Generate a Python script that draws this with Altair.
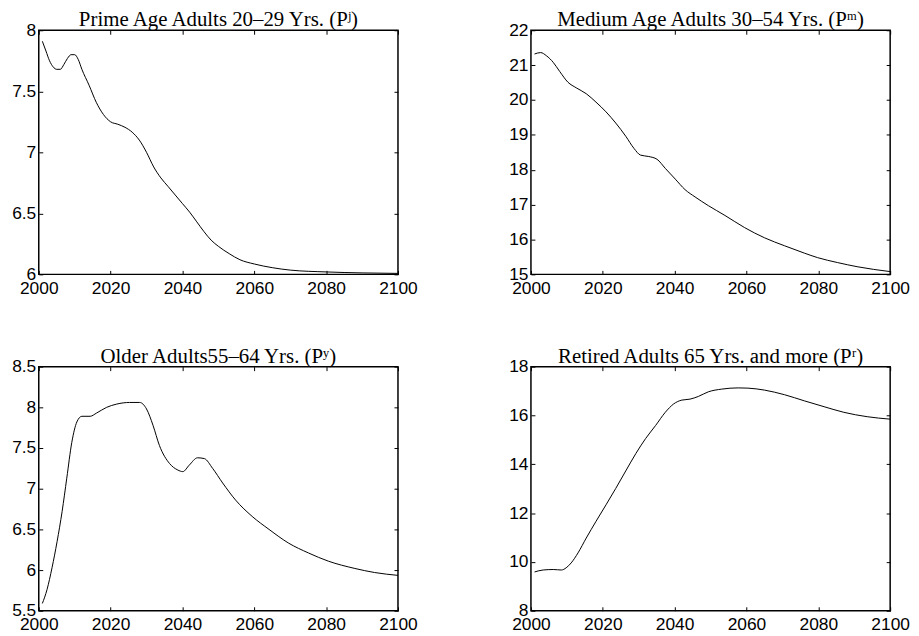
import altair as alt
import pandas as pd

# ---- data ----
years_prime = [2001, 2002, 2003, 2004, 2005, 2006, 2007, 2008, 2009, 2010, 2011, 2012, 2014, 2016, 2018,
               2020, 2022, 2024, 2026, 2028, 2030, 2032, 2034, 2036, 2038, 2040, 2042, 2044, 2046, 2048,
               2050, 2053, 2056, 2060, 2065, 2070, 2080, 2090, 2100]
vals_prime = [7.91, 7.83, 7.75, 7.70, 7.68, 7.68, 7.72, 7.77, 7.80, 7.80, 7.76, 7.68, 7.55, 7.41, 7.31,
              7.25, 7.23, 7.205, 7.165, 7.10, 7.00, 6.88, 6.79, 6.72, 6.65, 6.58, 6.51, 6.43, 6.35, 6.28,
              6.23, 6.17, 6.12, 6.085, 6.055, 6.035, 6.02, 6.012, 6.008]

years_medium = [2001, 2002.7, 2004.3, 2006.2, 2008, 2010.3, 2012.6, 2015.4, 2018.1, 2020.9, 2023.6, 2026.4,
                2028.7, 2030.5, 2032.8, 2035.1, 2037.4, 2040.2, 2042.9, 2045.7, 2049.4, 2054, 2059.5,
                2065, 2070.6, 2076.1, 2079.8, 2085.3, 2090.8, 2100]
vals_medium = [21.32, 21.36, 21.27, 21.08, 20.82, 20.51, 20.35, 20.18, 19.94, 19.66, 19.34, 18.96,
               18.61, 18.42, 18.38, 18.30, 18.04, 17.73, 17.43, 17.22, 16.97, 16.69, 16.34,
               16.05, 15.82, 15.61, 15.48, 15.34, 15.22, 15.08]

years_older = [2001, 2002.3, 2003.7, 2005.1, 2006.5, 2007.8, 2009.2, 2010.6, 2012, 2014.3, 2016.1, 2018.9,
               2021.7, 2025.3, 2028.1, 2030, 2031.8, 2033.6, 2036.4, 2038.7, 2040.1, 2041.9, 2044.2,
               2046.1, 2048.4, 2051.2, 2054.8, 2059.4, 2064.1, 2069.6, 2075.1, 2080.6, 2088, 2093.5, 2100]
vals_older = [5.59, 5.76, 6.03, 6.35, 6.72, 7.13, 7.57, 7.82, 7.89, 7.89, 7.93, 8.00,
              8.04, 8.06, 8.06, 7.98, 7.78, 7.53, 7.31, 7.23, 7.21, 7.29, 7.38,
              7.37, 7.25, 7.07, 6.86, 6.66, 6.50, 6.33, 6.21, 6.11, 6.02, 5.97, 5.935]

years_retired = [2001, 2003.4, 2006.2, 2008.5, 2009.8, 2011.2, 2013.1, 2015.4, 2018.1, 2020.9, 2023.6,
                 2026.4, 2029.2, 2031.9, 2034.7, 2037.4, 2039.7, 2042, 2044.3, 2046.6, 2049.4, 2053.1,
                 2057.7, 2060.4, 2065, 2070.6, 2076.1, 2081.6, 2087.1, 2093.6, 2100]
vals_retired = [9.59, 9.67, 9.69, 9.67, 9.76, 9.96, 10.37, 10.98, 11.66, 12.34, 13.01,
                13.73, 14.44, 15.05, 15.59, 16.13, 16.47, 16.63, 16.67, 16.78, 16.97, 17.08,
                17.13, 17.12, 17.04, 16.85, 16.60, 16.36, 16.13, 15.95, 15.85]

x_ticks = [2000, 2020, 2040, 2060, 2080, 2100]

titles = ["Prime Age Adults 20\u201329 Yrs. (P\u02b2)",
          "Medium Age Adults 30\u201354 Yrs. (P\u1d50)",
          "Older Adults55\u201364 Yrs. (P\u02b8)",
          "Retired Adults 65 Yrs. and more (P\u02b3)"]
y_domains = [[6, 8], [15, 22], [5.5, 8.5], [8, 18]]
y_ticks = [[6, 6.5, 7, 7.5, 8],
           [15, 16, 17, 18, 19, 20, 21, 22],
           [5.5, 6, 6.5, 7, 7.5, 8, 8.5],
           [8, 10, 12, 14, 16, 18]]

W, H = 362, 246
LABEL_FONT = "Liberation Sans"
TITLE_FONT = "Liberation Serif"


def panel(years, vals, title, ydom, yticks):
    df = pd.DataFrame({"year": years, "value": vals})
    xs = alt.Scale(domain=[2000, 2100], nice=False, zero=False)
    ys = alt.Scale(domain=ydom, nice=False, zero=False)
    main = alt.Chart(df).mark_line(color="black", strokeWidth=1.0, interpolate="monotone").encode(
        x=alt.X("year:Q", scale=xs, axis=alt.Axis(
            orient="bottom", values=x_ticks, format="d", title=None, grid=False, domain=False,
            offset=-4, tickSize=4, tickColor="black", tickWidth=1,
            labelFont=LABEL_FONT, labelFontSize=17.5, labelColor="black", labelPadding=5,
            labelFlush=False, labelOverlap=False)),
        y=alt.Y("value:Q", scale=ys, axis=alt.Axis(
            orient="left", values=yticks, format="~g", title=None, grid=False, domain=False,
            offset=-4, tickSize=4, tickColor="black", tickWidth=1,
            labelFont=LABEL_FONT, labelFontSize=17.5, labelColor="black", labelPadding=3,
            labelFlush=False, labelOverlap=False)),
    )
    ghost = alt.Chart(df).mark_line(strokeOpacity=0).encode(
        x=alt.X("year:Q", scale=xs, axis=alt.Axis(
            orient="top", values=x_ticks, title=None, grid=False, domain=False, labels=False,
            offset=-4, tickSize=4, tickColor="black", tickWidth=1)),
        y=alt.Y("value:Q", scale=ys, axis=alt.Axis(
            orient="right", values=yticks, title=None, grid=False, domain=False, labels=False,
            offset=-4, tickSize=4, tickColor="black", tickWidth=1)),
    )
    return alt.layer(main, ghost).resolve_axis(x="independent", y="independent").properties(
        width=W, height=H,
        title=alt.TitleParams(text=title, font=TITLE_FONT, fontSize=21, fontWeight="normal",
                              color="black", anchor="middle", offset=-9),
    )


p1 = panel(years_prime, vals_prime, titles[0], y_domains[0], y_ticks[0])
p2 = panel(years_medium, vals_medium, titles[1], y_domains[1], y_ticks[1])
p3 = panel(years_older, vals_older, titles[2], y_domains[2], y_ticks[2])
p4 = panel(years_retired, vals_retired, titles[3], y_domains[3], y_ticks[3])

chart = alt.concat(p1, p2, p3, p4, columns=2, spacing={"row": 93, "column": 134},
                   bounds="flush").properties(
    padding={"left": 2, "top": -2, "right": 0, "bottom": 0},
    background="white",
).configure_view(stroke="black", strokeWidth=1.5)

chart.save("out.html", embed_options={"renderer": "svg", "actions": False})
